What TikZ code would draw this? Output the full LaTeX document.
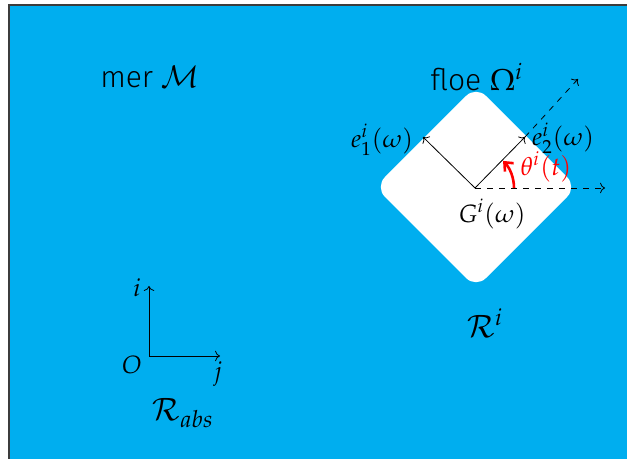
\documentclass[tikz,border=0pt]{standalone}
\usepackage{mathpazo}
\usepackage[no-math]{fontspec}
\setmainfont{Fira Sans Light}[BoldFont=Fira Sans]
\usetikzlibrary{arrows.meta}
\definecolor{seablue}{RGB}{0,174,239}
\definecolor{framegray}{RGB}{60,60,60}
\begin{document}
\begin{tikzpicture}[x=0.5pt,y=-0.5pt,
  big/.style={font=\fontsize{15}{17}\selectfont, inner sep=0pt},
  bigm/.style={font=\fontsize{15.5}{17}\selectfont, inner sep=0pt},
  lab/.style={font=\fontsize{12.5}{14}\selectfont, inner sep=0pt},
  vec/.style={->, line width=0.4pt},
  dvec/.style={->, dashed, line width=0.4pt}]
\useasboundingbox (0,0) rectangle (627,459);
\fill[white] (0,0) rectangle (627,459);
\fill[seablue] (9,5) rectangle (640,470);
\draw[framegray, line width=0.9pt] (9,470) -- (9,5) -- (640,5);
% floe
\fill[white, rounded corners=7pt] (476,86) -- (577,187) -- (476,288) -- (375,187) -- cycle;
\coordinate (G) at (475,188);
\coordinate (E1) at (423,137);
\coordinate (E2) at (525,137);
\coordinate (D2) at (578,79);
\coordinate (DH) at (605,188);
\draw[dvec] (G) -- (DH);
\draw[dvec] (E2) -- (D2);
\draw[vec] (G) -- (E1);
\draw[vec] (G) -- (E2);
\draw[red, line width=1.3pt, -{Straight Barb[length=3.5pt,width=6pt]}] (G) ++(39,0) arc[start angle=0, end angle=44, radius=19.5pt];
\node[lab] (e1) at (382,140) {$e_1^i(\omega)$};
\node[lab] (e2) at (563,138) {$e_2^i(\omega)$};
\node[lab] (g) at (492,214) {$G^i(\omega)$};
\node[lab, text=red, font=\fontsize{12.8}{15}\selectfont] (th) at (546,167) {$\theta^i(t)$};
\node[big] (floe) at (477,77) {floe $\Omega^i$};
\node[bigm] (ri) at (485,323) {$\mathcal{R}^i$};
\node[big] (mer) at (150,77) {mer $\mathcal{M}$};
% absolute frame
\coordinate (O) at (149,356);
\coordinate (I) at (149,286);
\coordinate (J) at (220,356);
\draw[vec] (O) -- (I);
\draw[vec] (O) -- (J);
\node[lab] (il) at (137,288) {$i$};
\node[lab] (ol) at (132,365) {$O$};
\node[lab] (jl) at (218,374) {$j$};
\node[bigm] (rabs) at (183,413) {$\mathcal{R}_{abs}$};
\end{tikzpicture}
\end{document}
